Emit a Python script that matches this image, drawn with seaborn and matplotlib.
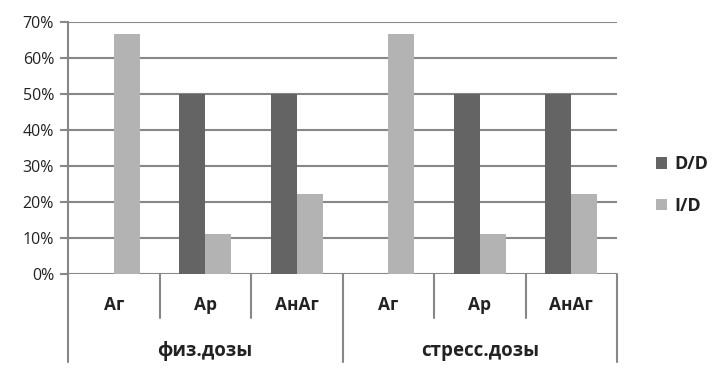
import matplotlib
matplotlib.use("Agg")
import matplotlib.pyplot as plt
import seaborn as sns
import pandas as pd
import numpy as np

# Data
groups = ["физ.дозы", "стресс.дозы"]
categories = ["Аг", "Ар", "АнАг"]
series = ["D/D", "I/D"]
dd_values = [0.0, 50.0, 50.0, 0.0, 50.0, 50.0]
id_values = [66.7, 11.1, 22.2, 66.7, 11.1, 22.2]
y_ticks = [0, 10, 20, 30, 40, 50, 60, 70]

colors = {"D/D": "#646464", "I/D": "#b3b3b3"}

keys, labels, grp, ser, val = [], [], [], [], []
for gi, g in enumerate(groups):
    for ci, c in enumerate(categories):
        k = f"{g}|{c}"
        idx = gi * len(categories) + ci
        for s, v in zip(series, [dd_values[idx], id_values[idx]]):
            keys.append(k); labels.append(c); grp.append(g); ser.append(s); val.append(v)
df = pd.DataFrame({"key": keys, "label": labels, "group": grp, "series": ser, "value": val})
order = list(dict.fromkeys(keys))

sns.set_style("white")
plt.rcParams["font.family"] = ["Open Sans", "DejaVu Sans"]

fig = plt.figure(figsize=(7.28, 3.73), dpi=100)
ax = fig.add_axes([68 / 728, 1 - 274 / 373, (617 - 68) / 728, (274 - 22) / 373])

sns.barplot(data=df, x="key", y="value", hue="series", order=order,
            hue_order=series, palette=colors, width=0.57, linewidth=0,
            saturation=1, ax=ax, legend=False)

grid_c = "#878787"
ax.set_ylim(0, 70)
ax.set_xlim(-0.5, len(order) - 0.5)
ax.set_yticks(y_ticks)
ax.set_yticklabels([f"{t}%" for t in y_ticks], fontsize=11.5, color="#222222")
for t in y_ticks:
    ax.axhline(t, color=grid_c, lw=1.5, zorder=0)
ax.tick_params(axis="y", length=6, width=1.5, color=grid_c, pad=4, left=True)
ax.set_xticks([])
ax.set_xlabel("")
ax.set_ylabel("")
for sp in ["top", "right", "bottom"]:
    ax.spines[sp].set_visible(False)
ax.spines["left"].set_color(grid_c)
ax.spines["left"].set_linewidth(1.5)

trans = ax.get_xaxis_transform()
low_full = (274 - 362) / 252
low_short = (274 - 318) / 252
n = len(order)
for b in np.arange(-0.5, n, 1.0):
    is_group_edge = abs(((b + 0.5) % len(categories))) < 1e-9
    ax.plot([b, b], [0, low_full if is_group_edge else low_short], transform=trans,
            color=grid_c, lw=1.5, clip_on=False)

for i, k in enumerate(order):
    ax.text(i, (274 - 305) / 252, k.split("|")[1], transform=trans, ha="center",
            va="center", fontsize=12.5, fontweight="bold", color="#222222")
for gi, g in enumerate(groups):
    cx = gi * len(categories) + (len(categories) - 1) / 2
    ax.text(cx, (274 - 351) / 252, g, transform=trans, ha="center", va="center",
            fontsize=13.5, fontweight="bold", color="#222222")

from matplotlib.patches import Patch
handles = [Patch(facecolor=colors[s], edgecolor="none") for s in series]
fig.legend(handles, series, loc="center left", bbox_to_anchor=(640 / 728, 1 - 185 / 373),
           frameon=False, prop={"size": 13, "weight": "bold"}, handlelength=0.6,
           handleheight=0.6, handletextpad=0.4, labelspacing=1.3, labelcolor="#222222")

fig.savefig("out.png", dpi=100)
